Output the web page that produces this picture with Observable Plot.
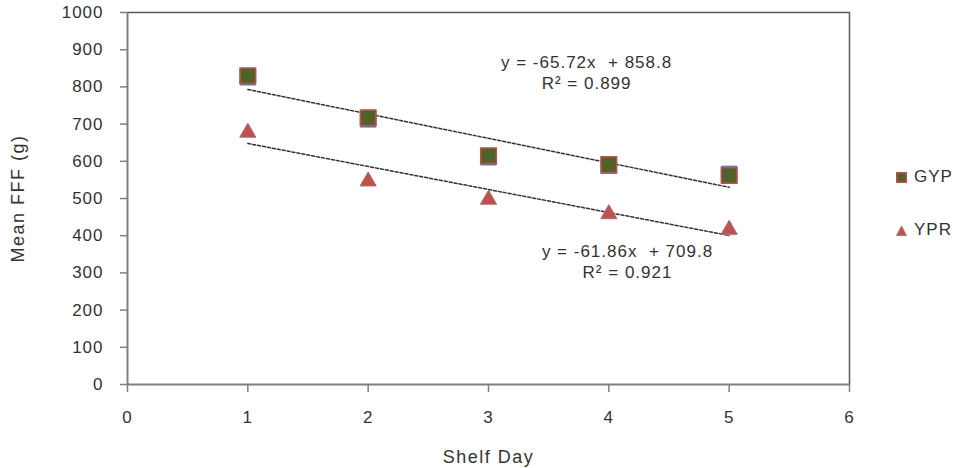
<!DOCTYPE html>
<html>
<head>
<meta charset="utf-8">
<script src="https://cdn.jsdelivr.net/npm/d3@7"></script>
<script src="https://cdn.jsdelivr.net/npm/@observablehq/plot@0.6"></script>
<style>
  html, body { margin: 0; padding: 0; background: #fff; }
  #wrap { position: relative; width: 957px; height: 468px; font-family: "Liberation Sans", Arial, sans-serif; }
  #wrap svg text { letter-spacing: 1px; }
  #legend { position: absolute; left: 896px; top: 166px; font-size: 17px; letter-spacing: 1px; color: #333; white-space: nowrap; }
  #legend .item { display: flex; align-items: center; height: 22px; }
  #legend svg { margin-right: 7px; }
</style>
</head>
<body>
<div id="wrap"></div>
<script>
// ---- data ----
const days = [1, 2, 3, 4, 5];
const gyp = [830, 717, 615, 591, 562];
const ypr = [680, 549, 500, 461, 419];
const hiddenBlue = [826, 713, 611, 588, 566];
const seriesNames = ["GYP", "YPR"];
const slopes = [-65.72, -61.86];
const intercepts = [858.8, 709.8];
const r2 = ["0.899", "0.921"];
const eqPosX = [3.815, 4.155];
const eqPosY = [840, 332];
const xTicks = [0, 1, 2, 3, 4, 5, 6];
const yTicks = [0, 100, 200, 300, 400, 500, 600, 700, 800, 900, 1000];

const gypData = days.map((d, i) => ({day: d, value: gyp[i]}));
const yprData = days.map((d, i) => ({day: d, value: ypr[i]}));
const blueData = days.map((d, i) => ({day: d, value: hiddenBlue[i]}));
const trend = slopes.flatMap((s, k) => [1, 5].map(x => ({series: seriesNames[k], x, y: s * x + intercepts[k]})));
const eqs = slopes.map((s, k) => ({
  x: eqPosX[k], y: eqPosY[k],
  text: `y = ${s.toFixed(2)}x  + ${intercepts[k].toFixed(1)}\nR² = ${r2[k]}`
}));

const axisColor = "#7f7f7f";
const chart = Plot.plot({
  width: 957,
  height: 468,
  marginLeft: 127,
  marginRight: 108,
  marginTop: 12,
  marginBottom: 84,
  style: {fontFamily: "Liberation Sans, Arial, sans-serif", fontSize: "17px", color: "#333", background: "#fff"},
  x: {domain: [0, 6]},
  y: {domain: [0, 1000]},
  marks: [
    Plot.frame({stroke: "#595959", strokeWidth: 1.5}),
    Plot.axisX({ticks: xTicks, tickFormat: "d", tickSize: 8, tickPadding: 18, stroke: axisColor, strokeWidth: 1.5, fill: "#333", fontSize: 17,
      label: "Shelf Day", labelAnchor: "center", labelArrow: "none", labelOffset: 78}),
    Plot.axisY({ticks: yTicks, tickFormat: "d", tickSize: 7, tickPadding: 17, stroke: axisColor, strokeWidth: 1.5, fill: "#333", fontSize: 17,
      label: "Mean FFF (g)", labelAnchor: "center", labelArrow: "none", labelOffset: 116}),
    Plot.ruleY([0], {stroke: axisColor, strokeWidth: 1.5}),
    Plot.ruleX([0], {stroke: axisColor, strokeWidth: 1.5}),
    Plot.line(trend, {x: "x", y: "y", z: "series", stroke: "#333", strokeWidth: 1.5, strokeDasharray: "3,2"}),
    Plot.dot(blueData, {x: "day", y: "value", symbol: "square", r: 8.8, fill: "#4F81BD", stroke: "#4F81BD", strokeWidth: 1}),
    Plot.dot(gypData, {x: "day", y: "value", symbol: "square", r: 8.8, fill: "#4F6228", stroke: "#C0504D", strokeWidth: 1.5}),
    Plot.dot(yprData, {x: "day", y: "value", symbol: "triangle", r: 6, fill: "#C0504D", stroke: "#A5706E", strokeWidth: 1, dy: 1}),
    Plot.text(eqs, {x: "x", y: "y", text: "text", fontSize: 17, fill: "#333", lineHeight: 1.25, textAnchor: "middle"})
  ]
});
document.getElementById("wrap").appendChild(chart);

d3.select(chart).selectAll("text").filter(function() {
  const t = this.textContent;
  return t === "Shelf Day" || t === "Mean FFF (g)";
}).attr("font-size", 18).style("letter-spacing", "1.5px");

const legend = document.createElement("div");
legend.id = "legend";
legend.innerHTML = `
  <div class="item"><svg width="11" height="11"><rect x="0.75" y="0.75" width="9.5" height="9.5" fill="#4F6228" stroke="#C0504D" stroke-width="1.5"/></svg>${seriesNames[0]}</div>
  <div class="item" style="margin-top:31px"><svg width="11" height="11"><path d="M5.5 1 L10.5 10.5 L0.5 10.5 Z" fill="#C0504D" stroke="#A5706E" stroke-width="0.8"/></svg>${seriesNames[1]}</div>`;
document.getElementById("wrap").appendChild(legend);
</script>
</body>
</html>
